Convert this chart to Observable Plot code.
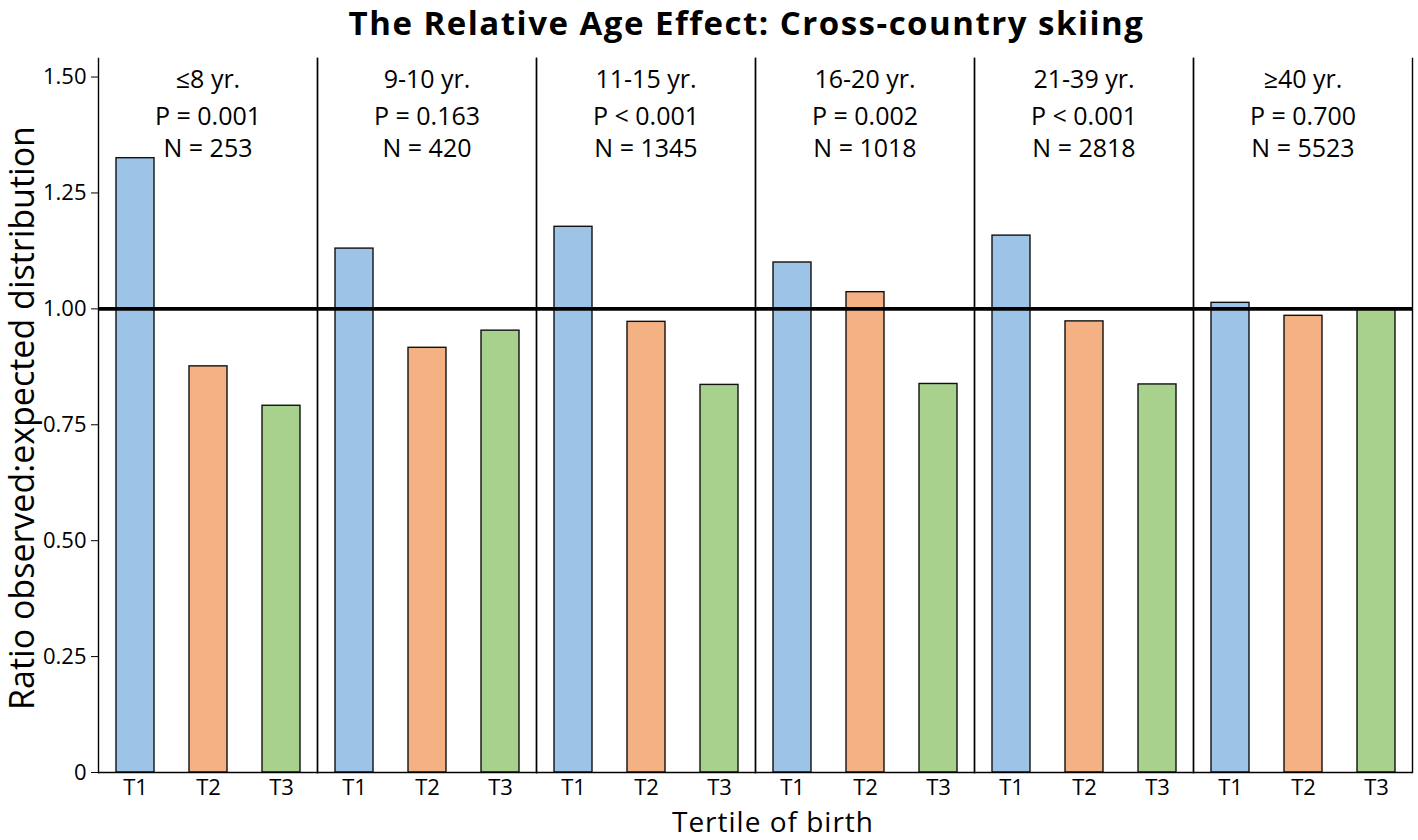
<!DOCTYPE html>
<html>
<head>
<meta charset="utf-8">
<script src="https://cdn.jsdelivr.net/npm/d3@7"></script>
<script src="https://cdn.jsdelivr.net/npm/@observablehq/plot@0.6"></script>
<style>
  html, body { margin: 0; padding: 0; background: #fff; overflow: hidden; }
  #wrap { position: relative; width: 1418px; height: 840px; font-family: "Open Sans", sans-serif; color: #000; }
  #title { position: absolute; left: 0; top: 0; height: 46px; box-sizing: border-box; width: 1418px; padding-left: 75px;
           text-align: center; font-weight: 700; font-size: 33px; line-height: 46px; letter-spacing: 1.5px; white-space: nowrap; }
  #chart { position: absolute; left: 0; top: 40px; height: 800px; }
  #xlabel { position: absolute; left: 773px; top: 801.5px; transform: translateX(-50%);
            font-size: 28px; line-height: 38px; letter-spacing: 1px; white-space: nowrap; }
  #ylabel { position: absolute; left: 21px; top: 418px; transform: translate(-50%, -50%) rotate(-90deg);
            font-size: 34px; line-height: 40px; white-space: nowrap; }
</style>
</head>
<body>
<div id="wrap">
  <div id="chart"></div>
  <div id="title">The Relative Age Effect: Cross-country skiing</div>
  <div id="xlabel">Tertile of birth</div>
  <div id="ylabel">Ratio observed:expected distribution</div>
</div>
<script>
// ---- data ----
const groups = ["≤8 yr.", "9-10 yr.", "11-15 yr.", "16-20 yr.", "21-39 yr.", "≥40 yr."];
const tertiles = ["T1", "T2", "T3"];
const t1Values = [1.325, 1.130, 1.177, 1.100, 1.158, 1.013];
const t2Values = [0.876, 0.916, 0.972, 1.036, 0.973, 0.985];
const t3Values = [0.791, 0.953, 0.836, 0.838, 0.837, 1.000];
const pLabels = ["P = 0.001", "P = 0.163", "P < 0.001", "P = 0.002", "P < 0.001", "P = 0.700"];
const nValues = [253, 420, 1345, 1018, 2818, 5523];
const yTicks = [0, 0.25, 0.50, 0.75, 1.00, 1.25, 1.50];
const referenceLine = [1];
const colors = ["#9DC3E6", "#F4B183", "#A9D18E"];

// ---- tables built from the arrays ----
const series = [t1Values, t2Values, t3Values];
const bars = groups.flatMap((g, i) => tertiles.map((t, j) => ({group: g, tertile: t, value: series[j][i]})));
const notes = groups.map((g, i) => ({group: g, label: g, p: pLabels[i], n: "N = " + nValues[i]}));

const chart = Plot.plot({
  width: 1418,
  height: 800,
  marginLeft: 97,
  marginRight: 6,
  marginTop: 18,
  marginBottom: 68,
  style: {fontFamily: "Open Sans, sans-serif", fontSize: "22px", color: "#000", background: "#fff", overflow: "visible"},
  fx: {domain: groups, padding: 0, axis: null, label: null},
  x: {domain: tertiles, paddingInner: 0.48, paddingOuter: 0.24, label: null, tickSize: 0, tickPadding: 7},
  y: {domain: [0, 1.54], ticks: yTicks, tickFormat: d => d === 0 ? "0" : d.toFixed(2), label: null, tickSize: 7, tickPadding: 5},
  color: {domain: tertiles, range: colors},
  marks: [
    Plot.barY(bars, {fx: "group", x: "tertile", y: "value", fill: "tertile", stroke: "#111", strokeWidth: 1.4}),
    Plot.frame({anchor: "left", stroke: "#000", strokeWidth: 1.4}),
    Plot.frame({anchor: "right", stroke: "#000", strokeWidth: 1.4}),
    Plot.ruleY([0], {stroke: "#000", strokeWidth: 1.6}),
    Plot.ruleY(referenceLine, {stroke: "#000", strokeWidth: 3.6}),
    Plot.text(notes, {fx: "group", text: "label", frameAnchor: "top", dy: 21, lineAnchor: "middle", fontSize: 25}),
    Plot.text(notes, {fx: "group", text: "p", frameAnchor: "top", dy: 58, lineAnchor: "middle", fontSize: 25}),
    Plot.text(notes, {fx: "group", text: "n", frameAnchor: "top", dy: 90, lineAnchor: "middle", fontSize: 25})
  ]
});
document.getElementById("chart").appendChild(chart);
</script>
</body>
</html>
